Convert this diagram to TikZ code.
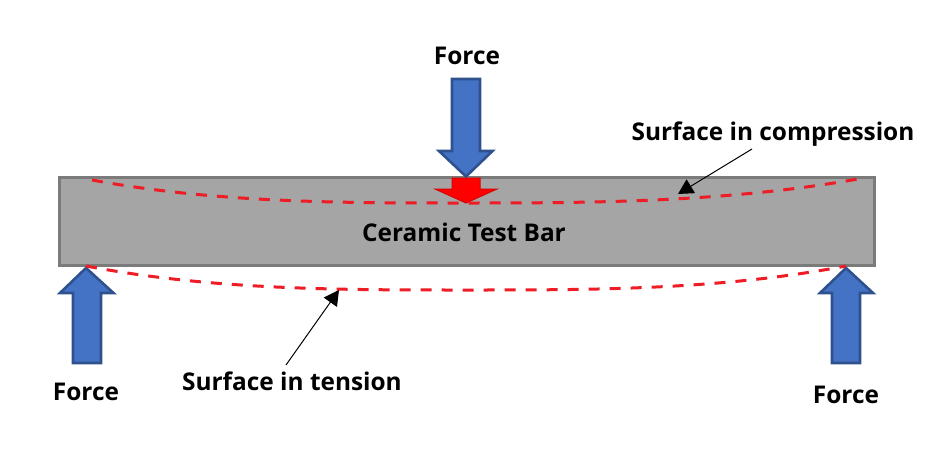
\documentclass[tikz,border=0pt]{standalone}
\usepackage{fontspec}
\setmainfont{Open Sans}
\usetikzlibrary{arrows.meta}
\definecolor{arrowblue}{HTML}{4472C4}
\definecolor{arrowedge}{HTML}{2F528F}
\definecolor{barfill}{HTML}{A5A5A5}
\definecolor{baredge}{HTML}{7B7B7B}
\definecolor{strain}{HTML}{EE1C25}
\tikzset{
  lbl/.style={font=\fontsize{24.4}{29}\selectfont\bfseries, text=black, inner sep=0pt},
  bluearrow/.style={fill=arrowblue, draw=arrowedge, line width=2.6pt, line join=miter},
  redarrow/.style={fill=red, draw=red!85!black, line width=1pt, line join=miter},
  barbox/.style={fill=barfill, draw=baredge, line width=3pt},
  straincurve/.style={draw=strain, line width=3pt, dash pattern=on 11pt off 10pt},
  pointer/.style={draw=black, line width=1pt, -{Triangle[length=15pt,width=16pt]}}
}
\begin{document}
\begin{tikzpicture}[x=1pt,y=-1pt]
\useasboundingbox (0,0) rectangle (937,450);
% bar
\draw[barbox] (59.5,177.5) rectangle (874.5,265);
% top blue arrow
\draw[bluearrow] (452,79) -- (480,79) -- (480,151) -- (492.5,151) -- (466,176.5) -- (439,151) -- (452,151) -- cycle;
% red arrow
\draw[redarrow] (452,178) -- (480,178) -- (480,189) -- (497,189) -- (466,203) -- (435,189) -- (452,189) -- cycle;
% side arrows
\draw[bluearrow] (73,363) -- (101,363) -- (101,293) -- (113.5,293) -- (86,268) -- (60,293) -- (73,293) -- cycle;
\draw[bluearrow] (832,363) -- (860,363) -- (860,293) -- (873,293) -- (846,268) -- (820,293) -- (832,293) -- cycle;
% strain curves
\draw[straincurve] (92,180) .. controls (217,203) and (342,203) .. (466,203) .. controls (597,203) and (727,202) .. (858,179);
\draw[straincurve] (86,266) .. controls (213,290) and (339,290) .. (466,290) .. controls (593,290) and (719,290) .. (846,266);
% labels
\node[lbl] (ftop) at (467,56) {Force};
\node[lbl] (fleft) at (86,392) {Force};
\node[lbl] (fright) at (846,395) {Force};
\node[lbl] (bar) at (464,232) {Ceramic Test Bar};
\node[lbl] (comp) at (773,134) {Surface in compression};
\node[lbl] (tens) at (292,381) {Surface in tension};
% pointers
\coordinate (compstart) at (752,149);
\coordinate (comptip) at (678,194);
\coordinate (tensstart) at (286,365);
\coordinate (tenstip) at (339,290);
\draw[pointer] (compstart) -- (comptip);
\draw[pointer] (tensstart) -- (tenstip);
\end{tikzpicture}
\end{document}
